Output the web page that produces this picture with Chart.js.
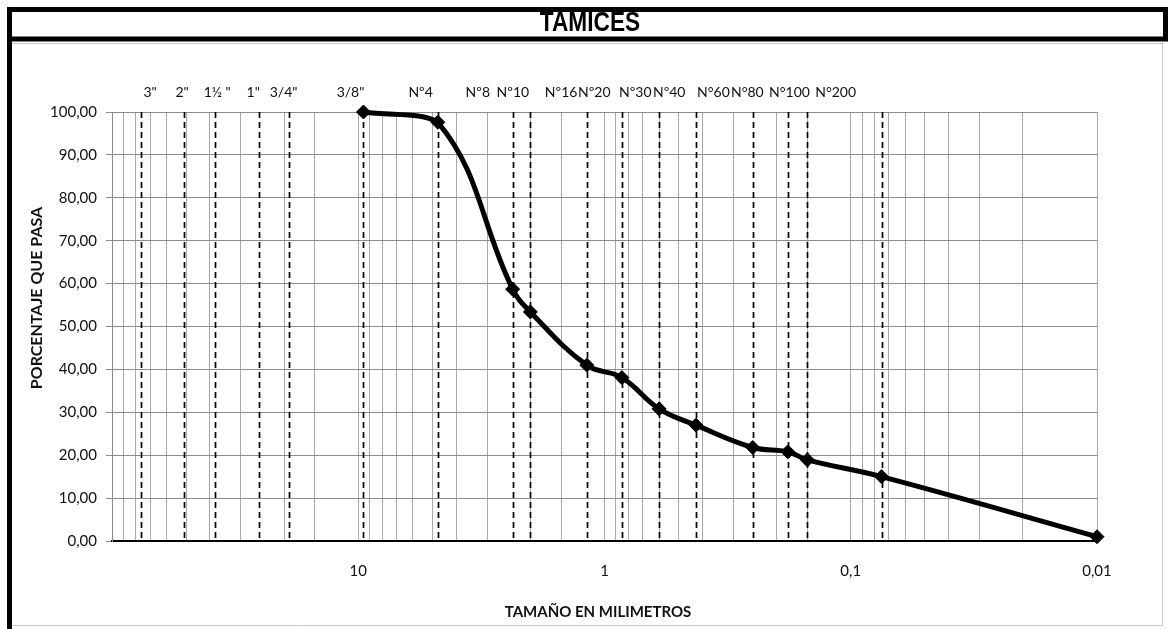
<!DOCTYPE html>
<html>
<head>
<meta charset="utf-8">
<title>TAMICES</title>
<script src="https://cdn.jsdelivr.net/npm/chart.js@4.4.1/dist/chart.umd.min.js"></script>
<style>
  html, body { margin: 0; padding: 0; background: #ffffff; }
  #wrap { width: 1168px; height: 629px; position: relative; }
  canvas { display: block; }
</style>
</head>
<body>
<div id="wrap"><canvas id="curva" width="1168" height="629"></canvas></div>
<script>
// Sieve series (names and openings in mm)
const sieveNames = ['3"', '2"', '1½ "', '1"', '3/4"', '3/8"', 'Nº4', 'Nº8', 'Nº10', 'Nº16', 'Nº20', 'Nº30', 'Nº40', 'N°60', 'N°80', 'N°100', 'N°200'];
const sieveSizes = [76.2, 50.8, 38.1, 25.4, 19.05, 9.525, 4.75, 2.36, 2.0, 1.18, 0.85, 0.6, 0.425, 0.25, 0.18, 0.15, 0.075];
// Caption anchors along the size axis (mm), captions are spread in one row above the grid
const sieveCaptionAt = [70.0, 51.9, 37.4, 26.7, 20.1, 10.75, 5.58, 3.27, 2.355, 1.50, 1.10, 0.750, 0.546, 0.361, 0.263, 0.1773, 0.1152];

// Grading curve: particle size (mm) vs. percent passing
const grainSizes = [9.525, 4.75, 2.36, 2.0, 1.18, 0.85, 0.6, 0.425, 0.25, 0.18, 0.15, 0.075, 0.01];
const percentPassing = [100, 97.6, 58.7, 53.4, 41.0, 38.1, 30.8, 27.0, 21.8, 20.8, 18.9, 15.0, 1.0];

// Axis ticks
const percentTicks = [0, 10, 20, 30, 40, 50, 60, 70, 80, 90, 100];
const sizeTickLabels = [10, 1, 0.1, 0.01];

const TEXT = '#111111';

function decimalComma(v, digits) {
  const s = digits === undefined ? String(v) : v.toFixed(digits);
  return s.replace('.', ',');
}

// Dashed verticals at every sieve opening, drawn under the curve
const sieveLines = {
  id: 'sieveLines',
  beforeDatasetsDraw(chart) {
    const { ctx, chartArea } = chart;
    const xs = chart.scales.x;
    ctx.save();
    ctx.strokeStyle = '#000000';
    ctx.lineWidth = 1.7;
    ctx.setLineDash([6, 4]);
    sieveSizes.forEach(s => {
      const x = Math.round(xs.getPixelForValue(s)) + 0.5;
      ctx.beginPath();
      ctx.moveTo(x, chartArea.top);
      ctx.lineTo(x, chartArea.bottom);
      ctx.stroke();
    });
    ctx.restore();
  }
};

// Frame, heading, sieve captions and axis titles
const sheetDecor = {
  id: 'sheetDecor',
  afterDraw(chart) {
    const { ctx } = chart;
    const xs = chart.scales.x;
    ctx.save();

    // light frame of the plot region
    ctx.strokeStyle = '#c8c8c8';
    ctx.lineWidth = 1;
    ctx.beginPath();
    ctx.moveTo(12, 43.5); ctx.lineTo(1162.5, 43.5);
    ctx.moveTo(1162.5, 42); ctx.lineTo(1162.5, 625.5);
    ctx.lineTo(12, 625.5);
    ctx.stroke();

    // heavy black borders of the heading box
    ctx.strokeStyle = '#000000';
    ctx.lineWidth = 5;
    ctx.beginPath();
    ctx.moveTo(7, 9.5); ctx.lineTo(1168, 9.5);
    ctx.moveTo(7, 39); ctx.lineTo(1168, 39);
    ctx.moveTo(9.5, 7); ctx.lineTo(9.5, 629);
    ctx.moveTo(1165.5, 7); ctx.lineTo(1165.5, 41);
    ctx.stroke();

    // heading
    ctx.fillStyle = '#000000';
    ctx.font = 'bold 27px "Liberation Sans", Arial, sans-serif';
    ctx.textAlign = 'center';
    ctx.textBaseline = 'middle';
    ctx.save();
    ctx.translate(590, 24);
    ctx.scale(0.84, 1);
    ctx.fillText('TAMICES', 0, 0);
    ctx.restore();

    // sieve captions
    ctx.fillStyle = TEXT;
    ctx.font = '14px Lato, "Noto Sans", sans-serif';
    ctx.textAlign = 'center';
    ctx.textBaseline = 'middle';
    sieveNames.forEach((name, i) => {
      ctx.fillText(name, xs.getPixelForValue(sieveCaptionAt[i]), 92);
    });

    // axis titles
    ctx.font = 'bold 15px Lato, "Noto Sans", sans-serif';
    ctx.fillText('TAMAÑO EN MILIMETROS', 598, 612);
    ctx.save();
    ctx.translate(37, 298);
    ctx.rotate(-Math.PI / 2);
    ctx.font = 'bold 16px Lato, "Noto Sans", sans-serif';
    ctx.fillText('PORCENTAJE QUE PASA', 0, 0);
    ctx.restore();

    ctx.restore();
  }
};

const points = grainSizes.map((s, i) => ({ x: s, y: percentPassing[i] }));

new Chart(document.getElementById('curva'), {
  type: 'line',
  data: {
    datasets: [{
      label: 'Curva granulométrica',
      data: points,
      borderColor: '#000000',
      backgroundColor: '#000000',
      borderWidth: 5,
      tension: 0.4,
      pointStyle: 'rectRot',
      pointRadius: 7,
      pointBorderWidth: 1,
      pointBackgroundColor: '#000000',
      pointBorderColor: '#000000',
      clip: false,
      fill: false
    }]
  },
  options: {
    responsive: false,
    animation: false,
    devicePixelRatio: 1,
    layout: { padding: { left: 0, right: 71, top: 112, bottom: 0 } },
    plugins: {
      legend: { display: false },
      title: { display: false },
      tooltip: { enabled: false }
    },
    scales: {
      x: {
        type: 'logarithmic',
        reverse: true,
        min: 0.01,
        max: 100,
        afterFit(scale) { scale.height = 88; },
        grid: { color: '#a9a9a9', lineWidth: 1, drawTicks: false },
        border: { color: '#000000', width: 2 },
        ticks: {
          autoSkip: false,
          maxRotation: 0,
          padding: 21,
          color: TEXT,
          font: { family: 'Lato, "Noto Sans", sans-serif', size: 15 },
          callback(value) {
            const hit = sizeTickLabels.find(t => Math.abs(Math.log10(value) - Math.log10(t)) < 1e-6);
            return hit === undefined ? '' : decimalComma(hit);
          }
        }
      },
      y: {
        min: 0,
        max: 100,
        afterFit(scale) { scale.width = 112; },
        afterBuildTicks(scale) { scale.ticks = percentTicks.map(v => ({ value: v })); },
        grid: { color: '#8c8c8c', lineWidth: 1, tickLength: 6, tickColor: '#8c8c8c' },
        border: { color: '#8c8c8c', width: 1 },
        ticks: {
          padding: 9,
          color: TEXT,
          font: { family: 'Lato, "Noto Sans", sans-serif', size: 15 },
          callback(value) { return decimalComma(value, 2); }
        }
      }
    }
  },
  plugins: [sieveLines, sheetDecor]
});
</script>
</body>
</html>
